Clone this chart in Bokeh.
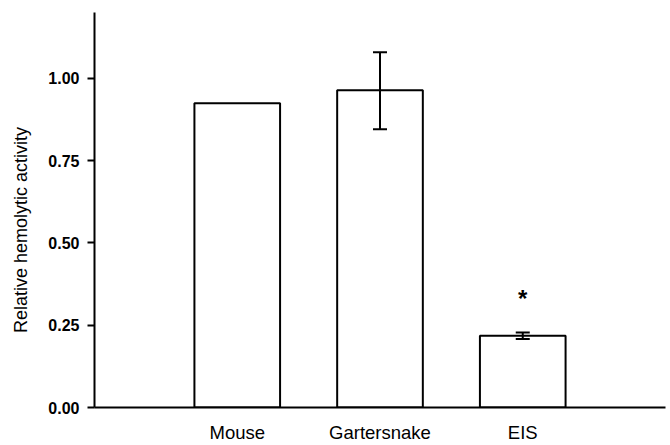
from bokeh.plotting import figure
from bokeh.models import ColumnDataSource, FixedTicker, Range1d
from bokeh.core.properties import value
from bokeh.embed import file_html
from bokeh.resources import INLINE

categories = ["Mouse", "Gartersnake", "EIS"]
positions = [1, 2, 3]
values = [0.924, 0.964, 0.218]
err_upper = [0.924, 1.079, 0.228]
err_lower = [0.924, 0.845, 0.208]
y_ticks = [0.0, 0.25, 0.5, 0.75, 1.0]
y_tick_labels = ["0.00", "0.25", "0.50", "0.75", "1.00"]
sig_pos = [3]
sig_y = [0.33]
sig_text = ["*"]
y_title = "Relative hemolytic activity"

p = figure(width=668, height=445, output_backend="svg", toolbar_location=None,
           x_range=Range1d(0, 4), y_range=Range1d(0, 1.2),
           min_border_left=94, min_border_right=3, min_border_top=12, min_border_bottom=37)
p.outline_line_color = None
p.grid.visible = False
p.background_fill_color = "white"

src = ColumnDataSource(dict(x=positions, top=values))
p.vbar(x="x", top="top", bottom=0, width=0.6, source=src,
       fill_color="white", line_color="black", line_width=2)

# error bars (Gartersnake and EIS)
ex = positions[1:]
eu = err_upper[1:]
el = err_lower[1:]
p.segment(x0=ex, y0=el, x1=ex, y1=eu, line_color="black", line_width=2)
p.scatter(x=ex + ex, y=eu + el, marker="dash", size=14, line_color="black", line_width=2)

p.text(x=sig_pos, y=sig_y, text=sig_text, text_font=value("Liberation Sans"),
       text_font_size="24px", text_font_style="bold", text_align="center",
       text_baseline="middle", color="black")

for ax in p.yaxis:
    ax.ticker = FixedTicker(ticks=y_ticks)
    ax.major_label_overrides = {t: l for t, l in zip(y_ticks, y_tick_labels)}
    ax.axis_label = y_title + "\u00a0" * 8
    ax.axis_label_text_font = "Liberation Sans"
    ax.axis_label_text_font_style = "normal"
    ax.axis_label_text_font_size = "18px"
    ax.axis_label_text_color = "black"
    ax.axis_label_standoff = 14
    ax.major_label_text_font = "Liberation Sans"
    ax.major_label_text_font_style = "bold"
    ax.major_label_text_font_size = "16px"
    ax.major_label_text_color = "black"
    ax.major_label_standoff = 8
    ax.major_tick_out = 7
    ax.major_tick_in = 0
    ax.minor_tick_line_color = None
    ax.axis_line_width = 2
    ax.major_tick_line_width = 2

for ax in p.xaxis:
    ax.ticker = FixedTicker(ticks=positions)
    ax.major_label_overrides = {x: c for x, c in zip(positions, categories)}
    ax.major_label_text_font = "Liberation Sans"
    ax.major_label_text_font_size = "18.5px"
    ax.major_label_text_color = "black"
    ax.major_tick_line_color = None
    ax.minor_tick_line_color = None
    ax.major_tick_out = 0
    ax.major_tick_in = 0
    ax.major_label_standoff = 14
    ax.axis_line_width = 2

open("out.html", "w").write(file_html(p, INLINE))
